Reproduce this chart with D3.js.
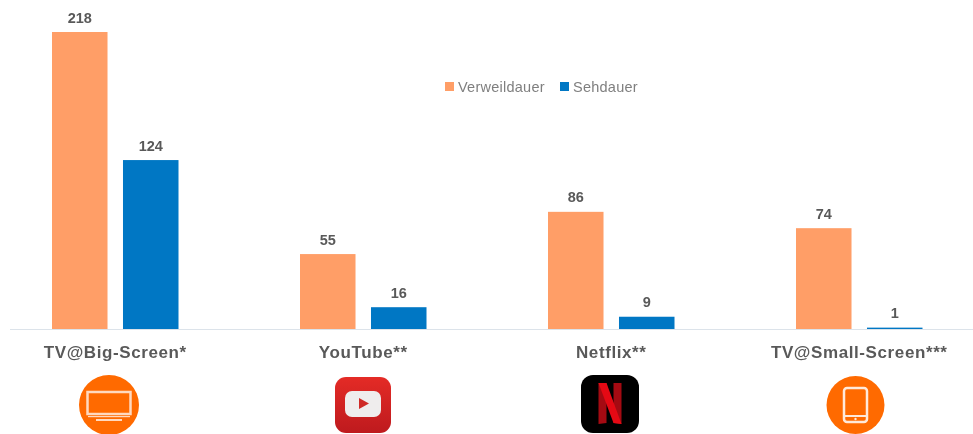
<!DOCTYPE html>
<html><head><meta charset="utf-8">
<script src="https://cdn.jsdelivr.net/npm/d3@7/dist/d3.min.js"></script>
<style>
html,body{margin:0;padding:0;background:#fff;overflow:hidden}
svg{display:block;filter:blur(0.5px)}
text{font-family:"Liberation Sans",Arial,sans-serif}
</style></head><body><div id="c"></div>
<script>
const categories=["TV@Big-Screen*","YouTube**","Netflix**","TV@Small-Screen***"];
const seriesNames=["Verweildauer","Sehdauer"];
const verweildauer=[218,55,86,74];
const sehdauer=[124,16,9,1];
const colors=["#FF9E67","#0077C4"];

const W=973,H=434,baseY=329;
const svg=d3.select("#c").append("svg").attr("width",W).attr("height",H);
const x=d3.scaleBand().domain(categories).range([-9,983]);
const xSub=d3.scaleBand().domain(seriesNames).range([61,187.5]).paddingInner(0.218);
const y=d3.scaleLinear().domain([0,218]).range([baseY,32]);
const vals=[verweildauer,sehdauer];

svg.append("line").attr("x1",10).attr("x2",W).attr("y1",baseY+0.5).attr("y2",baseY+0.5)
  .attr("stroke","#DCE3EA").attr("stroke-width",1);

seriesNames.forEach((s,si)=>{
  const g=svg.append("g");
  const rows=categories.map((c,i)=>({c,v:vals[si][i]}));
  g.selectAll("rect").data(rows).join("rect")
    .attr("x",d=>x(d.c)+xSub(s)).attr("y",d=>y(d.v))
    .attr("width",xSub.bandwidth()).attr("height",d=>baseY-y(d.v))
    .attr("fill",colors[si]);
  g.selectAll("text").data(rows).join("text")
    .attr("x",d=>x(d.c)+xSub(s)+xSub.bandwidth()/2).attr("y",d=>y(d.v)-9.5)
    .attr("text-anchor","middle").attr("font-size",14.5).attr("font-weight","bold")
    .attr("fill","#595959").text(d=>d.v);
});

svg.selectAll("text.cat").data(categories).join("text").attr("class","cat")
  .attr("x",c=>x(c)+(xSub.range()[0]+xSub.range()[1])/2)
  .attr("y",358).attr("text-anchor","middle").attr("font-size",17).attr("font-weight","bold")
  .attr("letter-spacing",0.6).attr("fill","#595959").text(c=>c);

const leg=svg.append("g");
[[445,458],[560,573]].forEach((p,i)=>{
  leg.append("rect").attr("x",p[0]).attr("y",82).attr("width",9).attr("height",9).attr("fill",colors[i]);
  leg.append("text").attr("x",p[1]).attr("y",91.5).attr("font-size",14.5).attr("fill","#7F7F7F")
    .attr("letter-spacing",0.25).text(seriesNames[i]);
});

const orange="#FF6A00";
const tv=svg.append("g").attr("transform","translate(109,405)");
tv.append("circle").attr("r",30).attr("fill",orange);
tv.append("rect").attr("x",-21.5).attr("y",-13).attr("width",43).attr("height",22).attr("fill","none").attr("stroke","#FFD9BF").attr("stroke-width",2.5);
tv.append("rect").attr("x",-21).attr("y",11).attr("width",42).attr("height",1.2).attr("fill","#FFD9BF");
tv.append("rect").attr("x",-13).attr("y",14).attr("width",26).attr("height",2).attr("fill","#FFD9BF");

const yt=svg.append("g").attr("transform","translate(363,405)");
const gr=svg.append("defs").append("linearGradient").attr("id","yg").attr("x1",0).attr("x2",0).attr("y1",0).attr("y2",1);
gr.append("stop").attr("offset",0).attr("stop-color","#E42B26");
gr.append("stop").attr("offset",1).attr("stop-color","#BE1A1E");
yt.append("rect").attr("x",-28).attr("y",-28).attr("width",56).attr("height",56).attr("rx",11).attr("fill","url(#yg)");
yt.append("rect").attr("x",-18).attr("y",-14).attr("width",36).attr("height",26).attr("rx",7).attr("fill","#EFEDED");
yt.append("path").attr("d","M-4,-7L6,-1.5L-4,4Z").attr("fill","#CF2A27");

const nf=svg.append("g").attr("transform","translate(610,404)");
nf.append("rect").attr("x",-29).attr("y",-29).attr("width",58).attr("height",58).attr("rx",12).attr("fill","#000");
nf.append("path").attr("d","M-11.5,-21H-3.5V19L-11.5,20Z").attr("fill","#A50A12");
nf.append("path").attr("d","M3.5,-21H11.5V20L3.5,19Z").attr("fill","#A50A12");
nf.append("path").attr("d","M-11.5,-21H-3.5L11.5,20L3.5,19Z").attr("fill","#E50914");

const tab=svg.append("g").attr("transform","translate(855.5,405)");
tab.append("circle").attr("r",29).attr("fill",orange);
tab.append("rect").attr("x",-11.5).attr("y",-17).attr("width",23).attr("height",34).attr("rx",3).attr("fill","none").attr("stroke","#FFE9DA").attr("stroke-width",2.5);
tab.append("line").attr("x1",-12).attr("x2",12).attr("y1",11).attr("y2",11).attr("stroke","#FFE9DA").attr("stroke-width",2);
tab.append("circle").attr("cy",14).attr("r",1.2).attr("fill","#FFE9DA");
</script></body></html>
